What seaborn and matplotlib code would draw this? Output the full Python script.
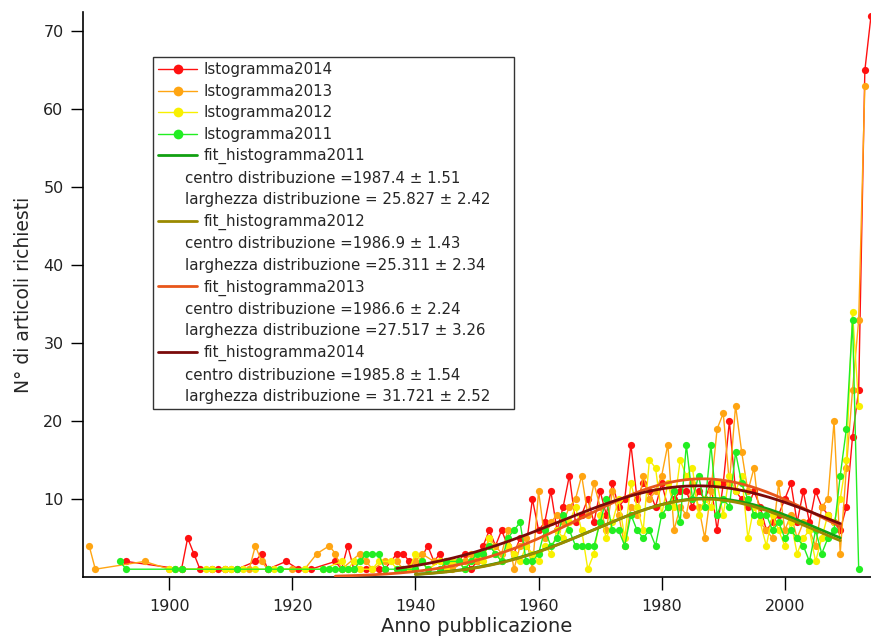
import numpy as np
import pandas as pd
import matplotlib
matplotlib.use("Agg")
import matplotlib.pyplot as plt
import seaborn as sns
from matplotlib.lines import Line2D

# ---------------- data ----------------
anni_2014 = [1893, 1902, 1903, 1904, 1905, 1907, 1908, 1909, 1911, 1914, 1915, 1916, 1919, 1921, 1923,
             1927, 1928, 1929, 1930, 1932, 1934, 1935, 1937, 1938, 1939, 1940, 1942, 1943, 1944, 1945,
             1946, 1947, 1948, 1949, 1950, 1951, 1952, 1953, 1954, 1955, 1956, 1957, 1958, 1959, 1960,
             1961, 1962, 1963, 1964, 1965, 1966, 1967, 1968, 1969, 1970, 1971, 1972, 1973, 1974, 1975,
             1976, 1977, 1978, 1979, 1980, 1981, 1982, 1983, 1984, 1985, 1986, 1987, 1988, 1989, 1990,
             1991, 1992, 1993, 1994, 1995, 1996, 1997, 1998, 1999, 2000, 2001, 2002, 2003, 2004, 2005,
             2006, 2007, 2008, 2009, 2010, 2011, 2012, 2013, 2014]
n_2014 = [2, 1, 5, 3, 1, 1, 1, 1, 1, 2, 3, 1, 2, 1, 1,
          2, 1, 4, 1, 1, 1, 1, 3, 3, 2, 1, 4, 2, 3, 1,
          2, 2, 3, 1, 2, 4, 6, 4, 6, 4, 3, 5, 4, 10, 6,
          7, 11, 6, 9, 13, 7, 8, 10, 7, 11, 8, 12, 9, 10, 17,
          10, 12, 11, 9, 12, 9, 10, 11, 11, 9, 11, 10, 12, 6, 12,
          20, 11, 10, 9, 11, 9, 6, 7, 8, 10, 12, 7, 11, 7, 11,
          9, 8, 7, 6, 9, 18, 24, 65, 72]

anni_2013 = [1887, 1888, 1896, 1900, 1901, 1902, 1909, 1910, 1913, 1914, 1915, 1916, 1920, 1922, 1924,
             1926, 1927, 1928, 1931, 1932, 1933, 1935, 1937, 1938, 1940, 1941, 1943, 1945, 1946, 1948,
             1949, 1950, 1951, 1952, 1953, 1954, 1955, 1956, 1957, 1958, 1959, 1960, 1961, 1962, 1963,
             1964, 1965, 1966, 1967, 1968, 1969, 1970, 1971, 1972, 1973, 1974, 1975, 1976, 1977, 1978,
             1979, 1980, 1981, 1982, 1983, 1984, 1985, 1986, 1987, 1988, 1989, 1990, 1991, 1992, 1993,
             1994, 1995, 1996, 1997, 1998, 1999, 2000, 2001, 2002, 2003, 2004, 2005, 2006, 2007, 2008,
             2009, 2010, 2011, 2012, 2013]
n_2013 = [4, 1, 2, 1, 1, 1, 1, 1, 1, 4, 2, 1, 1, 1, 3,
          4, 3, 1, 3, 2, 1, 2, 2, 1, 2, 3, 2, 2, 1, 2,
          3, 2, 3, 5, 4, 3, 6, 1, 4, 5, 1, 11, 5, 7, 8,
          7, 9, 10, 13, 8, 12, 9, 6, 11, 8, 4, 9, 8, 13, 10,
          11, 13, 17, 6, 9, 8, 12, 9, 5, 11, 19, 21, 12, 22, 16,
          11, 14, 7, 6, 5, 12, 6, 8, 5, 7, 6, 4, 9, 10, 20,
          3, 14, 24, 33, 63]

anni_2012 = [1900, 1906, 1907, 1909, 1910, 1912, 1914, 1917, 1922, 1925, 1928, 1929, 1930, 1931, 1933,
             1934, 1936, 1937, 1939, 1940, 1941, 1942, 1944, 1945, 1946, 1947, 1948, 1949, 1950, 1951,
             1952, 1953, 1954, 1955, 1956, 1957, 1958, 1959, 1960, 1961, 1962, 1963, 1964, 1965, 1966,
             1967, 1968, 1969, 1970, 1971, 1972, 1973, 1974, 1975, 1976, 1977, 1978, 1979, 1980, 1981,
             1982, 1983, 1984, 1985, 1986, 1987, 1988, 1989, 1990, 1991, 1992, 1993, 1994, 1995, 1996,
             1997, 1998, 1999, 2000, 2001, 2002, 2003, 2004, 2005, 2006, 2007, 2008, 2009, 2010, 2011,
             2012]
n_2012 = [1, 1, 1, 1, 1, 1, 1, 1, 1, 1, 2, 1, 2, 1, 1,
          2, 2, 1, 1, 3, 2, 1, 2, 1, 2, 2, 1, 2, 3, 2,
          5, 3, 2, 4, 3, 2, 4, 3, 2, 4, 3, 6, 5, 7, 9,
          6, 1, 3, 8, 5, 7, 10, 5, 12, 9, 6, 15, 14, 8, 12,
          9, 15, 13, 14, 8, 10, 9, 12, 8, 13, 11, 13, 5, 9, 7,
          4, 8, 6, 4, 7, 3, 5, 6, 2, 5, 8, 7, 10, 15, 34,
          22]

anni_2011 = [1892, 1893, 1901, 1902, 1911, 1916, 1918, 1925, 1926, 1927, 1928, 1929, 1930, 1931, 1932,
             1933, 1934, 1935, 1937, 1938, 1940, 1941, 1942, 1944, 1945, 1947, 1948, 1949, 1950, 1951,
             1952, 1953, 1954, 1955, 1956, 1957, 1958, 1959, 1960, 1961, 1962, 1963, 1964, 1965, 1966,
             1967, 1968, 1969, 1970, 1971, 1972, 1973, 1974, 1975, 1976, 1977, 1978, 1979, 1980, 1981,
             1982, 1983, 1984, 1985, 1986, 1987, 1988, 1989, 1990, 1991, 1992, 1993, 1994, 1995, 1996,
             1997, 1998, 1999, 2000, 2001, 2002, 2003, 2004, 2005, 2006, 2007, 2008, 2009, 2010, 2011,
             2012]
n_2011 = [2, 1, 1, 1, 1, 1, 1, 1, 1, 1, 1, 1, 1, 2, 3,
          3, 3, 1, 1, 1, 1, 2, 1, 1, 2, 2, 1, 2, 3, 3,
          4, 3, 2, 5, 6, 7, 2, 2, 3, 6, 4, 5, 8, 6, 4,
          4, 4, 4, 7, 10, 6, 6, 4, 8, 6, 5, 6, 4, 8, 9,
          11, 7, 17, 10, 13, 9, 17, 8, 10, 9, 16, 12, 10, 8, 8,
          8, 6, 7, 5, 6, 5, 4, 2, 6, 3, 5, 6, 13, 19, 33,
          1]

serie = ["Istogramma2014", "Istogramma2013", "Istogramma2012", "Istogramma2011"]
colori_serie = ["#FF1010", "#FFA512", "#F8F000", "#22EE22"]

# Gaussian fits: legend parameters (centre, width) + amplitude
fit_nomi = ["fit_histogramma2011", "fit_histogramma2012", "fit_histogramma2013", "fit_histogramma2014"]
fit_centro = [1987.4, 1986.9, 1986.6, 1985.8]
fit_err_centro = [1.51, 1.43, 2.24, 1.54]
fit_larghezza = [25.827, 25.311, 27.517, 31.721]
fit_err_larghezza = [2.42, 2.34, 3.26, 2.52]
fit_ampiezza = [10.1, 10.0, 12.6, 11.7]
fit_inizio = [1940, 1940, 1927, 1937]
fit_fine = [2009, 2009, 2009, 2009]
colori_fit = ["#12A012", "#9A8A00", "#E8561A", "#7A0A0A"]

x_ticks = [1900, 1920, 1940, 1960, 1980, 2000]
y_ticks = [10, 20, 30, 40, 50, 60, 70]

# ---------------- figure ----------------
sns.set_theme(style="ticks")
plt.rcParams["font.family"] = ["DejaVu Sans"]

fig = plt.figure(figsize=(8.71, 6.40), dpi=100)
ax = fig.add_axes([83 / 871, 1 - 577 / 640, 1 - 83 / 871, (577 - 12) / 640])

frames = []
for nome, anni, vals in zip(serie, [anni_2014, anni_2013, anni_2012, anni_2011],
                            [n_2014, n_2013, n_2012, n_2011]):
    frames.append(pd.DataFrame({"anno": anni, "n": vals, "serie": nome}))
df = pd.concat(frames, ignore_index=True)

for nome, col in zip(serie, colori_serie):
    sub = df[df["serie"] == nome]
    sns.lineplot(data=sub, x="anno", y="n", color=col, marker="o", markersize=5.2,
                 markeredgewidth=0, linewidth=1.0, estimator=None, ax=ax, legend=False,
                 zorder=3, clip_on=True)

fit_frames = []
for nome, c, w, a, s, e in zip(fit_nomi, fit_centro, fit_larghezza, fit_ampiezza, fit_inizio, fit_fine):
    xx = np.linspace(s, e, 200)
    yy = a * np.exp(-((xx - c) / w) ** 2)
    fit_frames.append(pd.DataFrame({"anno": xx, "n": yy, "fit": nome}))
dfit = pd.concat(fit_frames, ignore_index=True)
for nome, col in zip(fit_nomi, colori_fit):
    sub = dfit[dfit["fit"] == nome]
    sns.lineplot(data=sub, x="anno", y="n", color=col, linewidth=2.0, estimator=None,
                 ax=ax, legend=False, zorder=4)

ax.set_xlim(1886, 2014)
ax.set_ylim(0, 72.5)
ax.set_xticks(x_ticks)
ax.set_yticks(y_ticks)
ax.tick_params(axis="both", direction="out", length=9, width=1.0, labelsize=11.5,
               color="black", labelcolor="#222222", pad=5)
ax.tick_params(axis="x", pad=7)
for side in ["top", "right"]:
    ax.spines[side].set_visible(False)
for side in ["left", "bottom"]:
    ax.spines[side].set_color("black")
    ax.spines[side].set_linewidth(1.2)

ax.set_xlabel("Anno pubblicazione", fontsize=14, labelpad=2)
ax.set_ylabel("N° di articoli richiesti", fontsize=13.5, labelpad=7)

# ---------------- legend ----------------
handles, labels = [], []
for nome, col in zip(serie, colori_serie):
    handles.append(Line2D([], [], color=col, marker="o", markersize=7, markeredgewidth=0, linewidth=1.0))
    labels.append(nome)
blank = Line2D([], [], color="none")
testo_idx = []
for i, nome in enumerate(fit_nomi):
    handles.append(Line2D([], [], color=colori_fit[i], linewidth=2.0))
    labels.append(nome)
    handles.append(blank)
    labels.append(f"centro distribuzione ={fit_centro[i]} ± {fit_err_centro[i]:.2f}")
    testo_idx.append(len(labels) - 1)
    handles.append(blank)
    sep = " " if i in (0, 3) else ""
    labels.append(f"larghezza distribuzione ={sep}{fit_larghezza[i]:.3f} ± {fit_err_larghezza[i]:.2f}")
    testo_idx.append(len(labels) - 1)

leg = ax.legend(handles, labels, loc="upper left", bbox_to_anchor=(0.089, 0.92),
                borderaxespad=0, frameon=True, fancybox=False, edgecolor="black",
                fontsize=10.8, handlelength=2.6, handletextpad=0.4, labelspacing=0.43,
                borderpad=0.35)
leg.get_frame().set_linewidth(1.0)
leg.set_zorder(10)
for i in testo_idx:
    leg.get_texts()[i].set_x(-18)

fig.savefig("out.png", dpi=100)
